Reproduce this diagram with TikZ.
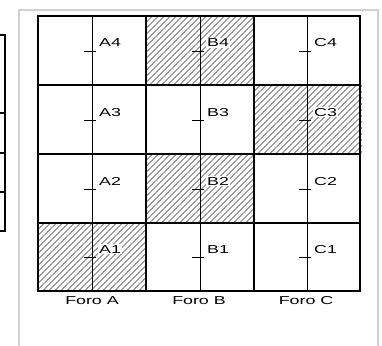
\documentclass[tikz,border=0pt]{standalone}
\usepackage{fontspec}
\setmainfont{Liberation Sans}
\newfontfamily\widefont[FakeStretch=1.55]{Liberation Sans}
\begin{document}
\begin{tikzpicture}[x=1pt,y=-1pt,
  thickline/.style={line width=2pt, line cap=rect},
  thinline/.style={line width=1pt},
  hatchline/.style={line width=0.6pt, black!75},
  celllabel/.style={anchor=base west, inner sep=1pt, fill=white, font=\widefont\fontsize{11.5}{13}\selectfont},
  forolabel/.style={anchor=center, inner sep=0pt, font=\widefont\fontsize{11.5}{13}\selectfont},
  panel/.style={line width=1.5pt, black!18}]
\useasboundingbox (0,0) rectangle (382,345);
\fill[white] (0,0) rectangle (382,345);
% left partial table
\draw[line width=1.6pt] (0,35) -- (5,35) -- (5,231) -- (0,231);
\draw[line width=1.6pt] (0,113) -- (5,113);
\draw[line width=1.6pt] (0,153) -- (5,153);
\draw[line width=1.6pt] (0,192) -- (5,192);
% panel
\draw[panel] (19,346) -- (19,10) -- (378,10) -- (378,346);
% hatched cells
\foreach \xa/\ya in {38/223, 146/154, 254/85, 146/16} {
  \begin{scope}
    \clip (\xa,\ya) rectangle ++(108,68.5);
    \foreach \i in {-80,-74,...,112} {
      \draw[hatchline] (\xa+\i,\ya+68.5) -- ++(75,-75);
    }
  \end{scope}
}
% center lines
\foreach \cx in {92,200,307} {
  \draw[thinline] (\cx,16) -- (\cx,291);
}
% grid
\draw[thickline] (38,16) rectangle (360,291);
\foreach \gx in {146,254} { \draw[thickline] (\gx,16) -- (\gx,291); }
\foreach \gy in {85,154,223} { \draw[thickline] (38,\gy) -- (360,\gy); }
% ticks and labels
\foreach \col/\cx in {A/92,B/200,C/307} {
  \foreach \row/\ty in {4/51,3/120,2/189,1/257} {
    \node[celllabel] (lab\col\row) at (\cx+6,\ty-4) {\col\row};
    \draw[thinline] (\cx-8,\ty) -- (\cx+4,\ty);
  }
}
% foro labels
\node[forolabel] (foroA) at (92,301) {Foro A};
\node[forolabel] (foroB) at (199,301) {Foro B};
\node[forolabel] (foroC) at (306,301) {Foro C};
\end{tikzpicture}
\end{document}
